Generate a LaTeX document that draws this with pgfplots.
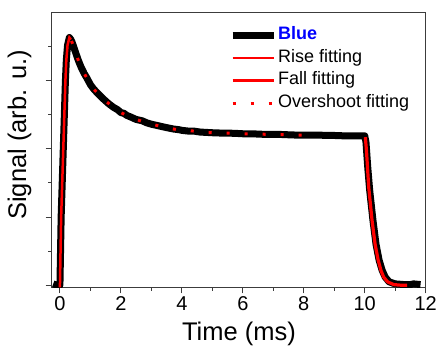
\documentclass[border=0pt]{standalone}
\usepackage{pgfplots}
\pgfplotsset{compat=1.18}
\usepackage{fontspec}
\setmainfont{Liberation Sans}
\definecolor{axgray}{RGB}{60,60,60}
\begin{document}
\begin{tikzpicture}
\path[use as bounding box] (-51.7pt,-58.7pt) rectangle (386.3pt,287.3pt);
\begin{axis}[
 scale only axis, width=374pt, height=275pt,
 xmin=-0.27, xmax=12, ymin=-0.03, ymax=4.0,
 xtick={0,2,...,12}, minor xtick={1,3,...,11},
 ytick={0,1,2,3}, minor ytick={0.5,1.5,2.5,3.5}, yticklabels={},
 tick align=outside, xtick pos=bottom, ytick pos=left,
 major tick length=6pt, minor tick length=3.5pt,
 axis line style={axgray, line width=1pt},
 every tick/.style={axgray, line width=1pt},
 /pgf/number format/assume math mode=true,
 ticklabel style={font=\fontsize{20}{20}\selectfont},
 xlabel={Time (ms)}, ylabel={Signal (arb. u.)},
 label style={font=\fontsize{25.5}{25.5}\selectfont},
 xlabel style={at={(axis description cs:0.5008,-0.194)}, anchor=base},
 ylabel style={at={(axis description cs:-0.045,0.554)}, anchor=south},
 legend style={at={(0.474,0.952)}, anchor=north west, draw=none, fill=none,
   font=\fontsize{18}{18}\selectfont, inner sep=0pt, row sep=3.6pt,
   nodes={text height=13pt, text depth=4pt, inner sep=1pt}},
 legend cell align=left,
 legend image code/.code={\draw[#1,line cap=butt] (0pt,0pt) -- (41pt,0pt);},
]
\addplot[black, line width=7pt, line join=round, no markers] coordinates {
(-0.22,0.02) (-0.1,0.0) (0.0,0.0) (0.02,0.5) (0.04,1) (0.075,1.5) (0.11,2) (0.145,2.5)
(0.18,3) (0.21,3.3) (0.25,3.52) (0.31,3.63) (0.36,3.6) (0.4,3.56) (0.44,3.51) (0.5,3.43)
(0.6,3.30) (0.7,3.19) (0.8,3.10) (0.88,3.04) (1.0,2.94) (1.1,2.88) (1.2,2.83) (1.31,2.78)
(1.4,2.74) (1.5,2.70) (1.6,2.66) (1.75,2.61) (1.9,2.57) (2.0,2.53) (2.1,2.52) (2.19,2.49)
(2.3,2.47) (2.5,2.43) (2.7,2.41) (2.85,2.38) (3.0,2.36) (3.2,2.34) (3.3,2.33) (3.5,2.31)
(3.72,2.29) (3.9,2.28) (4.0,2.27) (4.2,2.26) (4.38,2.26) (4.6,2.245) (4.8,2.24) (5.0,2.235)
(5.3,2.23) (5.5,2.23) (5.8,2.225) (6.0,2.22) (6.3,2.22) (6.5,2.215) (6.8,2.21) (7.0,2.21)
(7.23,2.21) (7.5,2.205) (7.8,2.20) (8.0,2.20) (8.3,2.20) (8.5,2.20) (8.8,2.195) (9.0,2.195)
(9.3,2.19) (9.5,2.19) (9.86,2.19) (10.0,2.19) (10.04,2.1) (10.1,1.72) (10.16,1.40)
(10.27,0.95) (10.37,0.60) (10.47,0.37) (10.57,0.22) (10.67,0.12) (10.8,0.05) (11.0,0.02)
(11.3,0.01) (11.5,0.01) (11.6,0.02) (11.83,0.01)
};
\addlegendentry{\textbf{\color{blue}Blue}}
\addplot[red, line width=2.5pt, no markers] coordinates {
(0.0,-0.03) (0.02,0.5) (0.04,1) (0.075,1.5) (0.11,2) (0.145,2.5) (0.18,3) (0.21,3.3)
(0.25,3.52) (0.31,3.63) (0.36,3.6)
};
\addlegendentry{Rise fitting}
\addplot[red, line width=3.2pt, no markers] coordinates {
(10.02,2.17) (10.06,1.95) (10.13,1.44) (10.24,0.95) (10.34,0.60) (10.44,0.37) (10.53,0.22)
(10.62,0.12) (10.75,0.05) (10.95,0.01) (11.2,0.0) (11.39,0.0)
};
\addlegendentry{Fall fitting}
\addplot[red, line width=3pt, dash pattern=on 3pt off 15pt, no markers] coordinates {
(0.38,3.58) (0.44,3.51) (0.5,3.43) (0.6,3.30) (0.7,3.19) (0.8,3.10) (0.88,3.04) (1.0,2.94)
(1.1,2.88) (1.2,2.83) (1.31,2.78) (1.5,2.70) (1.75,2.61) (2.0,2.53) (2.19,2.49) (2.5,2.43)
(2.85,2.38) (3.2,2.34) (3.5,2.31) (3.72,2.29) (4.0,2.27) (4.38,2.26) (4.6,2.245) (5.0,2.235)
(5.5,2.23) (6.0,2.22) (6.5,2.215) (7.0,2.21) (7.5,2.205) (8.0,2.20)
};
\addlegendentry{Overshoot fitting}
\end{axis}
\end{tikzpicture}
\end{document}
